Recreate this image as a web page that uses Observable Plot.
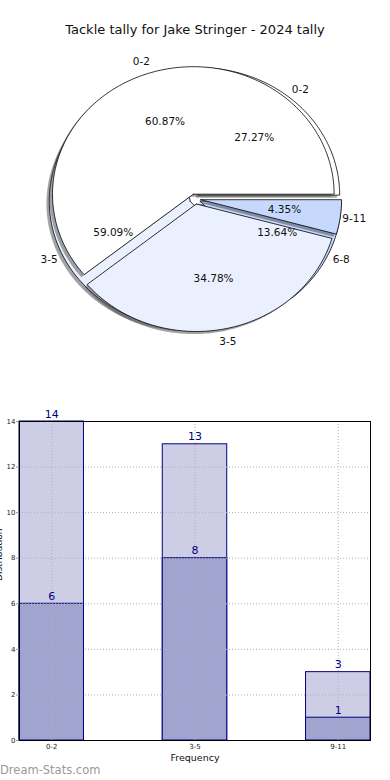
<!DOCTYPE html>
<html>
<head>
<meta charset="utf-8">
<script src="https://cdn.jsdelivr.net/npm/d3@7"></script>
<script src="https://cdn.jsdelivr.net/npm/@observablehq/plot@0.6"></script>
<style>
  html, body { margin: 0; padding: 0; background: #fff; }
  body { width: 390px; height: 780px; position: relative; overflow: hidden; font-family: "DejaVu Sans", sans-serif; }
  #title { position: absolute; top: 21px; left: 0; width: 390px; text-align: center; font-size: 13px; color: #111; line-height: 18px; }
  #pie { position: absolute; top: 0; left: 0; }
  #bars { position: absolute; top: 390px; left: 0; }
  #mark { position: absolute; left: 0; top: 762px; font-size: 11.5px; color: #999; line-height: 16px; font-weight: 500; }
  svg { font-family: "DejaVu Sans", sans-serif; }
</style>
</head>
<body>
<div id="title">Tackle tally for Jake Stringer - 2024 tally</div>
<div id="pie"></div>
<div id="bars"></div>
<div id="mark">Dream-Stats.com</div>
<script>
// ---- data ----
const pie1Labels = ["0-2", "3-5", "9-11"];
const pie1Values = [14, 8, 1];
const pie2Labels = ["0-2", "3-5", "6-8"];
const pie2Values = [6, 13, 3];

const barCategories = ["0-2", "3-5", "9-11"];
const barTotals = [14, 13, 3];
const barParts = [6, 8, 1];
const yTicks = [0, 2, 4, 6, 8, 10, 12, 14];

// ---- styles ----
const pieColors = ["#ffffff", "#eaf0fd", "#c6d9fd"];
const explode = 0.04;

function shade(c) {
  const r = d3.rgb(c);
  return d3.rgb(r.r * 0.3, r.g * 0.3, r.b * 0.3).formatHex();
}

function buildPie(labels, values) {
  const total = d3.sum(values);
  let a0 = 0;
  return values.map((v, i) => {
    const a1 = a0 + (v / total) * 360;
    const mid = ((a0 + a1) / 2) * Math.PI / 180;
    const ox = explode * Math.cos(mid), oy = explode * Math.sin(mid);
    const pts = [{x: ox, y: oy}];
    const n = Math.max(2, Math.ceil(a1 - a0));
    for (let k = 0; k <= n; k++) {
      const a = (a0 + (a1 - a0) * k / n) * Math.PI / 180;
      pts.push({x: ox + Math.cos(a), y: oy + Math.sin(a)});
    }
    pts.push({x: ox, y: oy});
    const w = {
      pts,
      color: pieColors[i % pieColors.length],
      label: labels[i],
      pct: (v / total * 100).toFixed(2) + "%",
      lx: ox + 1.1 * Math.cos(mid), ly: oy + 1.1 * Math.sin(mid),
      px: ox + 0.6 * Math.cos(mid), py: oy + 0.6 * Math.sin(mid)
    };
    a0 = a1;
    return w;
  });
}

const pie1 = buildPie(pie1Labels, pie1Values);
const pie2 = buildPie(pie2Labels, pie2Values);

const pieMarks = [];
for (const pie of [pie2, pie1]) {
  for (const w of pie) {
    pieMarks.push(Plot.line(w.pts, {
      x: d => d.x - 0.02, y: d => d.y - 0.02,
      fill: shade(w.color), fillOpacity: 0.5, stroke: "none"
    }));
    pieMarks.push(Plot.line(w.pts, {
      x: "x", y: "y", fill: w.color, stroke: "black", strokeWidth: 0.8
    }));
  }
}
for (const pie of [pie2, pie1]) {
  pieMarks.push(Plot.text(pie, {
    x: "lx", y: "ly", text: "label",
    textAnchor: d => d.lx < 0 ? "end" : "start",
    fontSize: 10.5, fill: "#111"
  }));
  pieMarks.push(Plot.text(pie, {
    x: "px", y: "py", text: "pct", fontSize: 10.5, fill: "#111"
  }));
}

const pieChart = Plot.plot({
  width: 390, height: 390,
  marginTop: 0, marginBottom: 0, marginLeft: 0, marginRight: 0,
  x: {domain: [-1, 1], range: [53.9, 335.5], axis: null},
  y: {domain: [-1, 1], range: [326, 71], axis: null},
  style: {background: "transparent", overflow: "visible"},
  marks: pieMarks
});
document.getElementById("pie").appendChild(pieChart);

// ---- bar chart ----
const halfW = 0.225;
const rows = barCategories.map((c, i) => ({i, c, total: barTotals[i], part: barParts[i]}));

const barChart = Plot.plot({
  width: 390, height: 390,
  marginLeft: 19, marginRight: 20, marginTop: 31, marginBottom: 40,
  x: {domain: [-halfW, barCategories.length - 1 + halfW]},
  y: {domain: [0, 14]},
  style: {background: "transparent"},
  marks: [
    Plot.rect(rows, {x1: d => d.i - halfW, x2: d => d.i + halfW, y1: 0, y2: "total",
      fill: "#cdcde5", stroke: "#000080", strokeWidth: 1}),
    Plot.rect(rows, {x1: d => d.i - halfW, x2: d => d.i + halfW, y1: 0, y2: "part",
      fill: "#a2a4d0", stroke: "#000080", strokeWidth: 1}),
    Plot.gridY(yTicks, {stroke: "#b0b0b0", strokeOpacity: 1, strokeDasharray: "1,2"}),
    Plot.gridX(rows.map(d => d.i), {stroke: "#b0b0b0", strokeOpacity: 1, strokeDasharray: "1,2"}),
    Plot.axisY(yTicks, {fontSize: 7, tickSize: 3, tickPadding: 1, stroke: "#999", fill: "#222", label: null}),
    Plot.axisX(rows.map(d => d.i), {tickFormat: i => barCategories[i], fontSize: 7, tickSize: 0, tickPadding: 4, fill: "#222", label: null}),
    Plot.text(rows, {x: "i", y: "total", text: d => String(d.total), dy: -4, lineAnchor: "bottom", fill: "#000080", fontSize: 11}),
    Plot.text(rows, {x: "i", y: "part", text: d => String(d.part), dy: -4, lineAnchor: "bottom", fill: "#000080", fontSize: 11}),
    Plot.text(["Frequency"], {text: d => d, frameAnchor: "bottom", dy: 20, fontSize: 9.5, fill: "#111"}),
    Plot.text(["Distribution"], {text: d => d, frameAnchor: "left", dx: -20, rotate: -90, fontSize: 9, fill: "#111"}),
    Plot.frame({stroke: "black"})
  ]
});
document.getElementById("bars").appendChild(barChart);
</script>
</body>
</html>
